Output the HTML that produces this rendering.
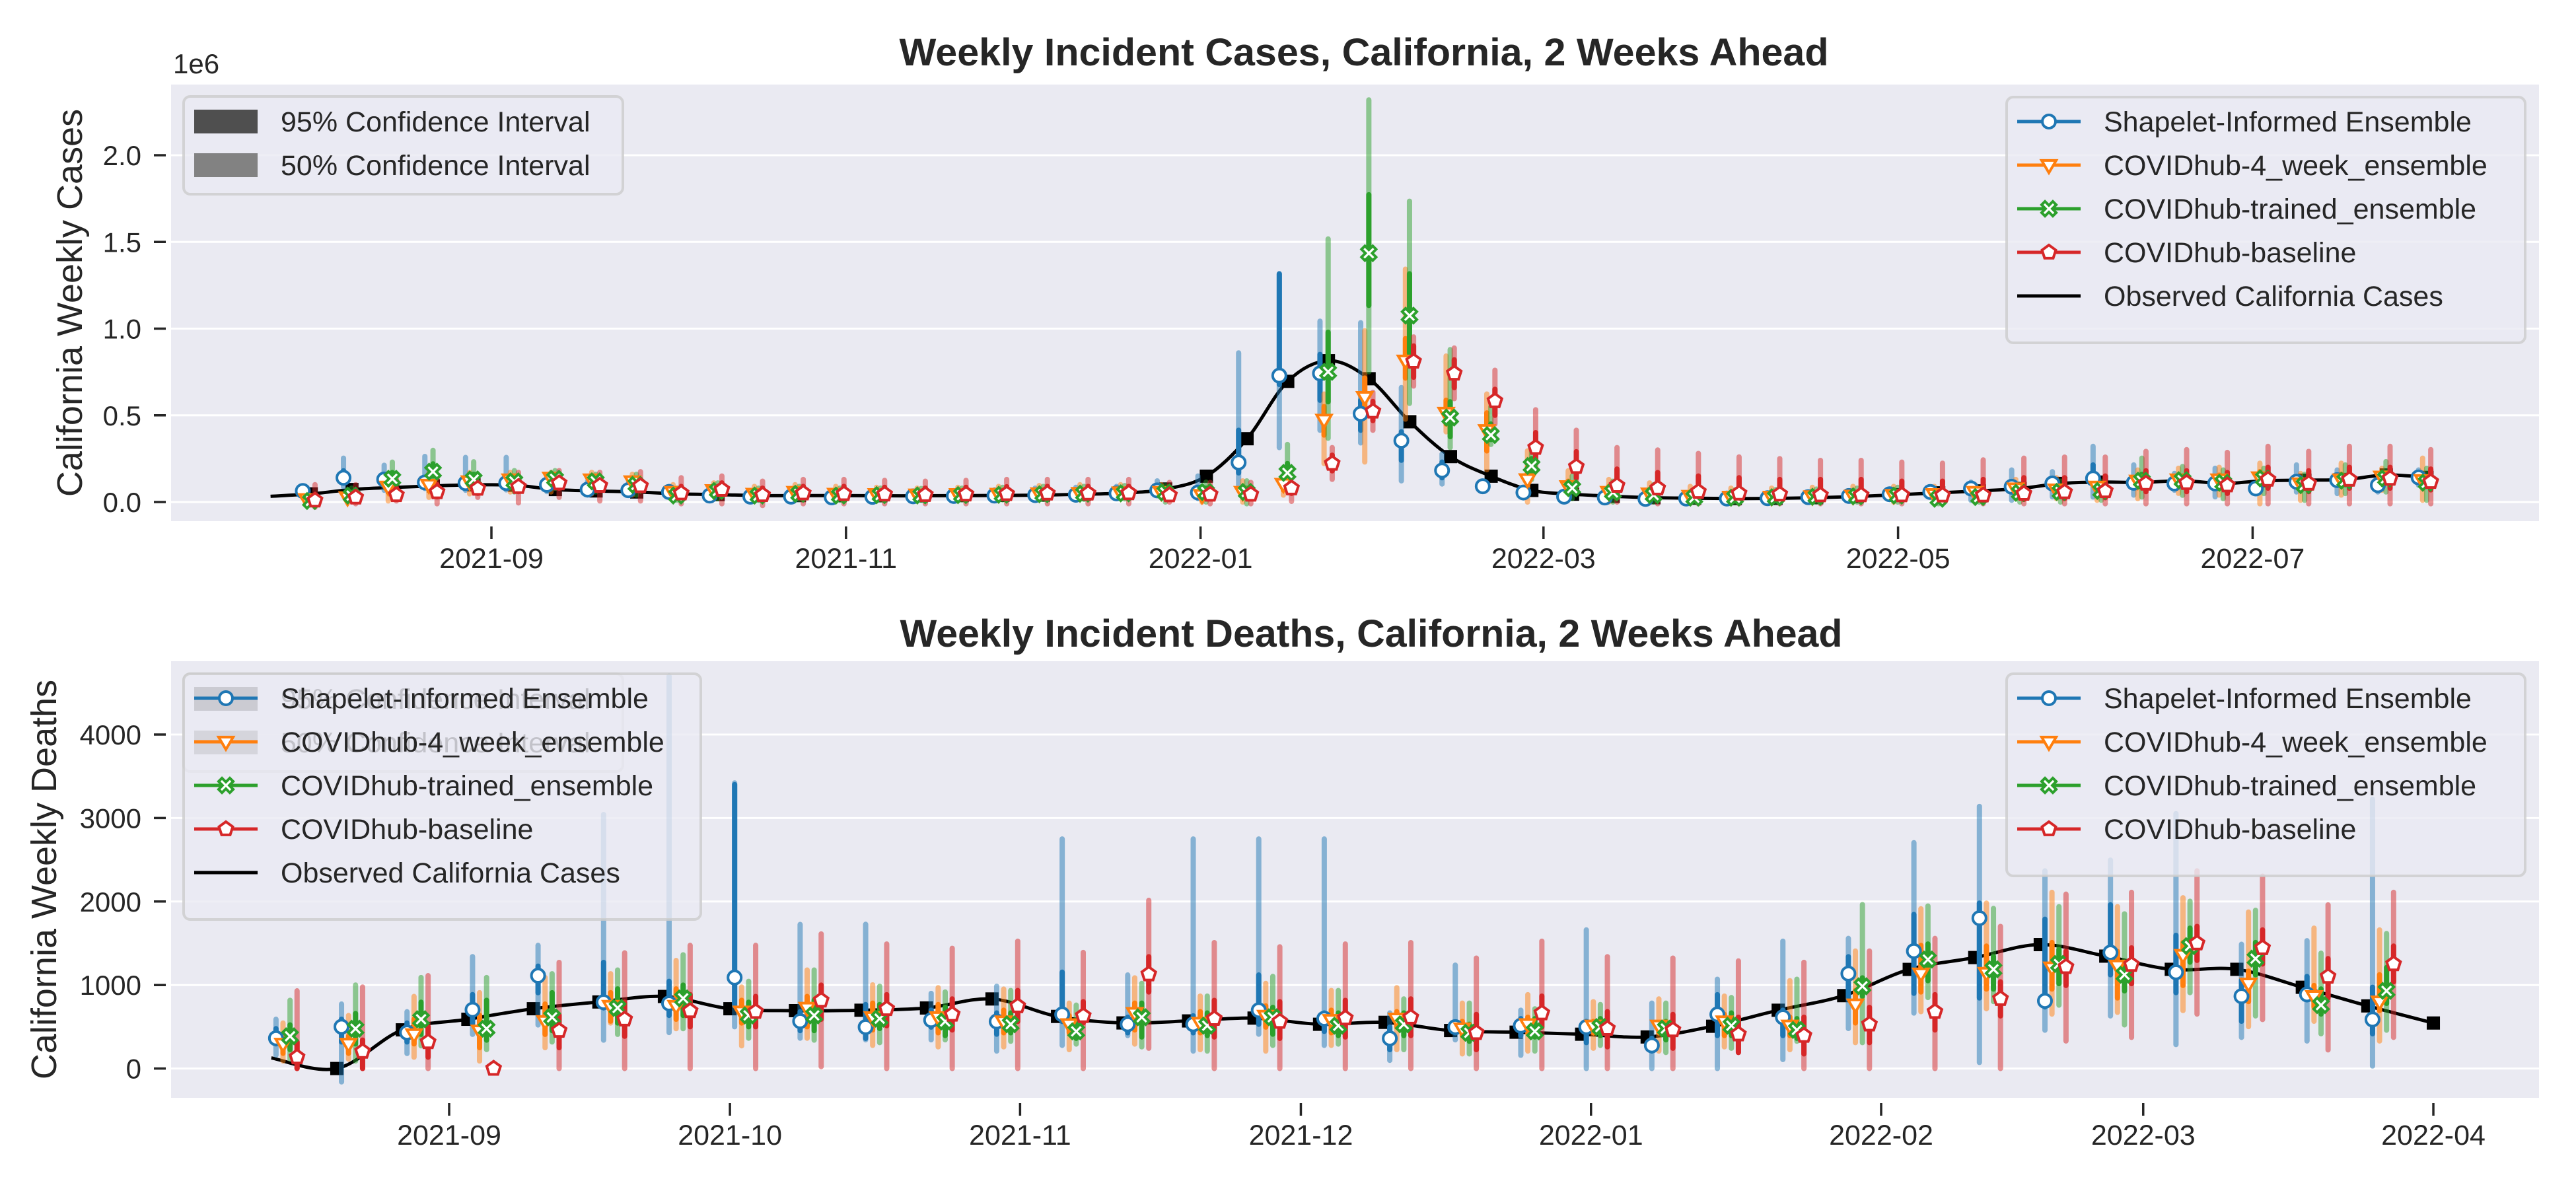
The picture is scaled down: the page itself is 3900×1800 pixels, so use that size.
<!DOCTYPE html>
<html><head><meta charset="utf-8">
<style>
html,body{margin:0;padding:0;background:#fff;}
svg{display:block;font-family:"Liberation Sans",Arial,sans-serif;}
</style></head>
<body>
<svg id="chart" width="3900" height="1800" viewBox="0 0 3900 1800" xmlns="http://www.w3.org/2000/svg"></svg>
<script>
// ---------- DATA: top panel (weekly cases, values in units of 1e6) ----------
const topObsDates = ["2021-07-25","2021-08-01","2021-08-08","2021-08-15","2021-08-22","2021-08-29","2021-09-05","2021-09-12","2021-09-19","2021-09-26","2021-10-03","2021-10-10","2021-10-17","2021-10-24","2021-10-31","2021-11-07","2021-11-14","2021-11-21","2021-11-28","2021-12-05","2021-12-12","2021-12-19","2021-12-26","2022-01-02","2022-01-09","2022-01-16","2022-01-23","2022-01-30","2022-02-06","2022-02-13","2022-02-20","2022-02-27","2022-03-06","2022-03-13","2022-03-20","2022-03-27","2022-04-03","2022-04-10","2022-04-17","2022-04-24","2022-05-01","2022-05-08","2022-05-15","2022-05-22","2022-05-29","2022-06-05","2022-06-12","2022-06-19","2022-06-26","2022-07-03","2022-07-10","2022-07-17","2022-07-24","2022-07-31"];
const topObsValues = [0.033,0.047,0.072,0.084,0.093,0.099,0.097,0.072,0.064,0.058,0.047,0.043,0.037,0.037,0.037,0.036,0.036,0.037,0.038,0.040,0.045,0.052,0.075,0.149,0.365,0.696,0.815,0.711,0.463,0.262,0.149,0.067,0.045,0.033,0.025,0.022,0.020,0.021,0.025,0.032,0.042,0.053,0.064,0.078,0.107,0.115,0.113,0.123,0.107,0.123,0.126,0.130,0.156,0.142];
const topYTicks = [0, 0.5, 1.0, 1.5, 2.0];
const topYTickLabels = ["0.0","0.5","1.0","1.5","2.0"];
const topXTicks = ["2021-09-01","2021-11-01","2022-01-01","2022-03-01","2022-05-01","2022-07-01"];
const topXTickLabels = ["2021-09","2021-11","2022-01","2022-03","2022-05","2022-07"];
// forecasts for topObsDates[1..53]: [median, lo95, hi95, lo50, hi50]
const topShapelet = [[.064,.04,.09,.055,.075],[.14,.088,.253,.12,.18],[.13,.068,.212,.11,.16],[.113,.078,.263,.10,.14],[.109,.068,.257,.095,.14],[.109,.07,.257,.095,.14],[.099,.06,.15,.085,.115],[.072,.04,.12,.06,.09],[.068,.04,.11,.058,.08],[.058,.035,.09,.05,.07],[.037,.02,.07,.03,.05],[.031,.015,.06,.025,.04],[.031,.015,.06,.025,.04],[.027,.012,.055,.02,.035],[.03,.015,.06,.025,.04],[.033,.018,.06,.027,.042],[.035,.02,.065,.03,.045],[.037,.02,.07,.03,.048],[.04,.022,.08,.033,.05],[.042,.025,.085,.035,.055],[.05,.03,.09,.042,.06],[.067,.04,.122,.055,.085],[.055,.02,.15,.045,.08],[.228,.095,.86,.168,.414],[.729,.314,1.316,.678,1.316],[.742,.414,1.043,.587,.851],[.509,.341,1.034,.414,.587],[.354,.122,.66,.241,.405],[.182,.104,.277,.14,.23],[.091,.07,.12,.08,.1],[.055,.04,.075,.048,.062],[.031,.02,.05,.026,.038],[.026,.015,.04,.02,.032],[.018,.01,.03,.014,.024],[.02,.01,.035,.015,.026],[.02,.01,.035,.015,.026],[.022,.012,.04,.017,.03],[.028,.015,.05,.022,.036],[.035,.02,.06,.028,.045],[.045,.025,.075,.037,.055],[.058,.04,.085,.05,.068],[.078,.01,.115,.06,.09],[.088,.01,.185,.07,.11],[.107,.03,.175,.085,.13],[.136,.029,.321,.11,.214],[.111,.04,.214,.09,.14],[.107,.068,.165,.09,.125],[.107,.03,.195,.085,.13],[.078,.05,.095,.07,.088],[.117,.058,.214,.1,.14],[.126,.049,.185,.11,.15],[.097,.058,.136,.085,.11],[.142,.097,.185,.13,.155]];
const topFourWeek = [[.016,0,.04,.008,.028],[.027,0,.07,.015,.045],[.088,.006,.15,.06,.11],[.099,.027,.17,.075,.12],[.119,.047,.17,.095,.14],[.13,.058,.171,.11,.15],[.14,.058,.171,.115,.155],[.13,.047,.171,.105,.15],[.119,.04,.16,.09,.14],[.058,.02,.1,.045,.075],[.068,.02,.11,.05,.085],[.047,.015,.09,.035,.065],[.058,.02,.1,.045,.075],[.047,.015,.09,.035,.065],[.045,.015,.085,.035,.06],[.043,.012,.08,.033,.058],[.045,.015,.085,.035,.06],[.047,.015,.09,.036,.062],[.05,.018,.095,.04,.066],[.052,.02,.1,.042,.07],[.055,.02,.1,.045,.072],[.058,.025,.1,.045,.075],[.04,0,.085,.03,.06],[.058,0,.122,.04,.08],[.104,.04,.15,.07,.13],[.474,.222,.623,.386,.55],[.605,.231,.988,.496,.715],[.815,.478,1.343,.715,.942],[.514,.405,.842,.45,.587],[.414,.186,.623,.295,.514],[.131,0,.295,.08,.2],[.091,.02,.18,.06,.12],[.058,0,.13,.04,.09],[.049,0,.11,.03,.07],[.035,0,.09,.02,.055],[.03,0,.08,.02,.05],[.03,0,.08,.02,.05],[.033,0,.085,.022,.053],[.036,0,.09,.025,.057],[.04,0,.09,.028,.06],[.045,0,.09,.03,.06],[.058,.01,.1,.045,.075],[.078,.02,.13,.06,.1],[.072,.02,.14,.055,.095],[.088,.01,.156,.07,.11],[.123,.02,.185,.1,.15],[.13,.05,.195,.11,.155],[.13,.04,.2,.11,.155],[.142,-.01,.224,.11,.175],[.107,.01,.165,.09,.13],[.13,.04,.224,.11,.16],[.146,.068,.195,.13,.165],[.126,.01,.253,.1,.16]];
const topTrained = [[.006,-.01,.03,0,.015],[.037,.006,.08,.025,.055],[.134,.047,.23,.11,.17],[.175,.119,.298,.15,.22],[.13,.068,.232,.11,.16],[.119,.058,.181,.1,.14],[.134,.078,.181,.115,.155],[.119,.058,.16,.1,.14],[.099,.04,.16,.08,.12],[.037,.01,.08,.025,.055],[.064,.02,.11,.05,.08],[.037,.01,.08,.025,.055],[.047,.015,.09,.035,.065],[.037,.01,.08,.025,.055],[.04,.012,.08,.03,.055],[.038,.01,.078,.028,.052],[.04,.012,.08,.03,.055],[.042,.012,.085,.032,.058],[.045,.015,.09,.035,.06],[.048,.015,.09,.037,.063],[.05,.018,.095,.04,.066],[.055,0,.095,.04,.07],[.058,0,.115,.04,.08],[.058,-.01,.122,.04,.08],[.168,.095,.332,.122,.222],[.751,.368,1.517,.578,.979],[1.435,.751,2.319,1.134,1.772],[1.075,.569,1.735,.86,1.316],[.487,.314,.879,.377,.578],[.386,.332,.55,.36,.45],[.208,.13,.314,.17,.25],[.08,.02,.15,.06,.11],[.055,0,.12,.035,.08],[.04,0,.1,.025,.06],[.025,0,.07,.015,.04],[.025,0,.07,.015,.04],[.027,0,.072,.017,.042],[.03,0,.075,.02,.045],[.033,0,.08,.022,.05],[.037,0,.085,.025,.055],[.019,-.01,.06,.01,.035],[.029,0,.07,.02,.045],[.053,0,.1,.04,.07],[.058,0,.12,.045,.08],[.064,.01,.12,.05,.085],[.123,.029,.253,.09,.16],[.126,.039,.205,.105,.15],[.111,.02,.185,.09,.14],[.136,.049,.195,.115,.16],[.097,.01,.16,.08,.12],[.123,.049,.214,.1,.15],[.136,.058,.233,.11,.17],[.111,.01,.195,.09,.14]];
const topBaseline = [[.01,-.03,.1,0,.04],[.027,-.01,.1,.01,.06],[.041,.006,.13,.025,.08],[.058,-.01,.14,.03,.1],[.078,.027,.15,.05,.11],[.088,-.005,.171,.06,.12],[.109,.027,.181,.08,.14],[.095,.006,.171,.07,.13],[.093,.006,.175,.065,.13],[.051,-.01,.14,.03,.09],[.072,-.01,.15,.04,.11],[.041,-.02,.12,.02,.08],[.051,-.01,.13,.03,.09],[.047,-.01,.13,.03,.09],[.045,-.01,.125,.025,.085],[.042,-.01,.12,.022,.08],[.045,-.01,.125,.025,.085],[.047,-.01,.13,.027,.088],[.05,-.01,.13,.03,.09],[.05,-.01,.13,.03,.09],[.052,-.01,.13,.032,.09],[.04,0,.113,.02,.08],[.044,-.01,.113,.025,.08],[.044,-.01,.113,.025,.08],[.08,.004,.113,.05,.1],[.222,.131,.314,.18,.27],[.523,.414,.633,.47,.58],[.811,.669,.952,.72,.9],[.742,.596,.888,.66,.82],[.583,.45,.76,.5,.65],[.314,.186,.532,.24,.4],[.204,.077,.414,.14,.29],[.095,0,.314,.04,.19],[.08,-.01,.3,.03,.17],[.06,-.01,.28,.02,.15],[.05,-.01,.26,.01,.14],[.045,-.01,.25,.01,.13],[.04,-.01,.24,.01,.13],[.04,-.01,.24,.01,.13],[.04,-.01,.23,.01,.12],[.039,-.01,.224,.01,.12],[.039,-.01,.243,.01,.13],[.049,-.01,.253,.015,.14],[.058,-.01,.259,.02,.14],[.064,-.01,.259,.025,.15],[.107,-.01,.292,.06,.18],[.111,-.01,.302,.06,.18],[.097,-.01,.286,.05,.17],[.13,-.01,.321,.08,.2],[.107,-.01,.292,.06,.18],[.13,-.01,.321,.08,.2],[.136,-.01,.321,.08,.2],[.117,-.01,.302,.07,.19]];

// ---------- DATA: bottom panel (weekly deaths) ----------
const botObsDates = ["2021-08-13","2021-08-20","2021-08-27","2021-09-03","2021-09-10","2021-09-17","2021-09-24","2021-10-01","2021-10-08","2021-10-15","2021-10-22","2021-10-29","2021-11-05","2021-11-12","2021-11-19","2021-11-26","2021-12-03","2021-12-10","2021-12-17","2021-12-24","2021-12-31","2022-01-07","2022-01-14","2022-01-21","2022-01-28","2022-02-04","2022-02-11","2022-02-18","2022-02-25","2022-03-04","2022-03-11","2022-03-18","2022-03-25","2022-04-01"];
const botObsValues = [127,0,463,590,716,797,863,716,693,698,725,833,624,546,570,604,530,553,455,435,411,378,506,698,873,1187,1329,1484,1346,1188,1188,973,750,545];
const botYTicks = [0,1000,2000,3000,4000];
const botYTickLabels = ["0","1000","2000","3000","4000"];
const botXTicks = ["2021-09-01","2021-10-01","2021-11-01","2021-12-01","2022-01-01","2022-02-01","2022-03-01","2022-04-01"];
const botXTickLabels = ["2021-09","2021-10","2021-11","2021-12","2022-01","2022-02","2022-03","2022-04"];
// forecasts for botObsDates[0..32]: [median, lo95, hi95, lo50, hi50]
const botShapelet = [[363,160,590,295,477],[500,-160,772,318,590],[431,180,680,318,545],[704,409,1340,545,885],[1112,522,1475,908,1226],[795,340,3042,726,1271],[780,431,4700,636,1044],[1090,500,3420,750,3400],[567,363,1725,454,681],[496,344,1727,361,766],[580,344,900,496,698],[563,209,985,411,665],[648,277,2749,563,1154],[530,395,1120,428,614],[530,209,2749,428,631],[698,411,2749,530,1120],[597,277,2749,445,665],[361,98,665,226,496],[496,344,1238,428,546],[513,159,698,395,597],[496,0,1660,310,563],[277,0,783,209,361],[648,0,1069,395,884],[614,108,1525,395,698],[1137,479,1558,833,1339],[1407,664,2705,901,1845],[1801,73,3139,845,1981],[810,459,2367,738,1788],[1389,630,2496,1123,1960],[1153,287,3053,909,1595],[866,373,1488,566,1059],[888,330,1531,823,1102],[587,30,3225,416,973]];
const botFourWeek = [[295,90,545,182,409],[295,113,635,182,386],[409,136,863,295,590],[454,90,908,250,636],[567,250,1090,409,772],[749,545,1135,567,908],[749,477,1294,590,953],[681,272,976,545,817],[726,363,1180,500,863],[614,277,1002,462,783],[614,260,968,428,766],[563,260,951,428,698],[530,226,783,428,631],[664,293,1086,462,783],[546,226,867,428,681],[631,209,1019,496,749],[580,277,934,428,698],[597,226,968,496,681],[479,175,783,395,563],[530,209,884,428,614],[513,243,800,428,563],[513,209,833,428,546],[563,260,867,395,648],[513,226,1052,395,614],[766,310,1407,546,934],[1137,681,1913,917,1474],[1145,716,1981,952,1466],[1209,652,2110,952,1509],[1231,673,1938,845,1402],[1359,695,2045,995,1509],[1016,502,1874,802,1166],[866,566,1681,738,995],[802,330,1660,695,1123]];
const botTrained = [[386,113,817,227,522],[477,90,1000,295,658],[590,272,1090,409,794],[477,227,1090,340,817],[613,318,1135,454,908],[726,409,1180,545,953],[840,477,1362,636,999],[636,363,1044,500,794],[636,340,1180,454,817],[597,310,985,479,766],[563,344,917,395,732],[530,327,934,428,665],[445,293,759,361,563],[614,260,1019,378,783],[513,209,867,395,665],[614,277,1103,411,732],[513,293,934,395,665],[530,226,833,395,665],[428,175,783,327,530],[445,209,715,378,597],[496,277,766,395,597],[479,192,783,344,563],[513,243,850,395,665],[462,327,1069,361,597],[985,310,1963,867,1086],[1305,850,1946,1052,1491],[1188,802,1917,952,1338],[1252,759,1938,1016,1424],[1123,523,1852,930,1274],[1466,909,2003,1274,1681],[1316,630,1895,1123,1509],[759,416,1381,652,952],[930,459,1617,780,1209]];
const botBaseline = [[136,0,930,0,318],[204,0,976,0,340],[318,0,1112,136,500],[0,0,0,0,0],[454,0,1271,250,636],[590,0,1385,386,794],[690,0,1475,500,885],[681,0,1475,500,863],[817,23,1612,590,999],[715,0,1491,513,884],[648,0,1440,462,833],[749,0,1525,563,934],[631,0,1390,546,800],[1130,243,2014,917,1339],[597,0,1508,378,816],[563,0,1457,361,800],[604,0,1491,378,816],[614,0,1508,395,833],[428,0,1322,226,648],[664,0,1525,496,867],[479,0,1339,260,681],[462,0,1322,243,648],[411,192,1288,192,614],[395,0,1272,175,614],[530,0,1407,310,732],[681,0,1558,462,884],[836,0,1702,630,1038],[1218,330,2088,995,1402],[1244,373,2110,1016,1445],[1501,652,2367,1295,1702],[1445,587,2303,1252,1660],[1102,223,1960,845,1316],[1252,373,2110,1038,1466]];

// ---------- RENDER ----------
const NS = "http://www.w3.org/2000/svg";
const svg = document.getElementById("chart");
const COLORS = {blue:"#1f77b4", orange:"#ff7f0e", green:"#2ca02c", red:"#d62728"};
const TXT = "#262626";
function mk(tag, attrs, parent){
  const e = document.createElementNS(NS, tag);
  for (const k in attrs) e.setAttribute(k, attrs[k]);
  (parent || svg).appendChild(e);
  return e;
}
const REF = Date.UTC(2021, 8, 1);
function dayOf(s){ const p = s.split("-"); return (Date.UTC(+p[0], +p[1]-1, +p[2]) - REF) / 86400000; }

const defs = mk("defs", {});
function clip(id, x, y, w, h){
  const c = mk("clipPath", {id:id}, defs);
  mk("rect", {x:x, y:y, width:w, height:h}, c);
}

function markerShape(kind, x, y, color, parent){
  const s = 11;
  let e;
  if (kind === "circle") {
    e = mk("circle", {cx:x, cy:y, r:s-1, fill:"#fff", stroke:color, "stroke-width":4}, parent);
  } else if (kind === "tri") {
    const pts = [[0,s*1.05],[-s*1.0,-s*0.65],[s*1.0,-s*0.65]];
    e = mk("polygon", {points:pts.map(p=>(x+p[0])+","+(y+p[1])).join(" "), fill:"#fff", stroke:color, "stroke-width":4, "stroke-linejoin":"miter"}, parent);
  } else if (kind === "x") {
    const a = 12, w = 3.6;
    const plus = [[w,a],[w,w],[a,w],[a,-w],[w,-w],[w,-a],[-w,-a],[-w,-w],[-a,-w],[-a,w],[-w,w],[-w,a]];
    const c = Math.SQRT1_2;
    const pts = plus.map(p=>[(p[0]-p[1])*c, (p[0]+p[1])*c]);
    e = mk("polygon", {points:pts.map(p=>(x+p[0])+","+(y+p[1])).join(" "), fill:"#fff", stroke:color, "stroke-width":4, "stroke-linejoin":"miter"}, parent);
  } else {
    const pts = [];
    for (let i=0;i<5;i++){ const ang = -Math.PI/2 + i*2*Math.PI/5; pts.push([x+s*Math.cos(ang), y+s*Math.sin(ang)]); }
    e = mk("polygon", {points:pts.map(p=>p[0]+","+p[1]).join(" "), fill:"#fff", stroke:color, "stroke-width":4, "stroke-linejoin":"miter"}, parent);
  }
  return e;
}

function smoothPath(pts){
  let d = "M" + pts[0][0] + "," + pts[0][1];
  for (let i=0;i<pts.length-1;i++){
    const p0 = pts[i-1] || pts[i], p1 = pts[i], p2 = pts[i+1], p3 = pts[i+2] || pts[i+1];
    const c1 = [p1[0] + (p2[0]-p0[0])/6, p1[1] + (p2[1]-p0[1])/6];
    const c2 = [p2[0] - (p3[0]-p1[0])/6, p2[1] - (p3[1]-p1[1])/6];
    d += " C" + c1[0] + "," + c1[1] + " " + c2[0] + "," + c2[1] + " " + p2[0] + "," + p2[1];
  }
  return d;
}

function drawPanel(cfg){
  const g = mk("g", {});
  
  
  const bg = mk("rect", {x:cfg.L, y:cfg.T, width:cfg.R-cfg.L, height:cfg.B-cfg.T, fill:"#eaeaf2"}, g);
  
  
  cfg.yTicks.forEach((v,i)=>{
    const y = cfg.y(v);
    const gl = mk("line", {x1:cfg.L, x2:cfg.R, y1:y, y2:y, stroke:"#fff", "stroke-width":3}, g);
    
    
    const tk = mk("line", {x1:cfg.L-26, x2:cfg.L-8, y1:y, y2:y, stroke:TXT, "stroke-width":3.5}, g);
    
    
    const t = mk("text", {x:cfg.L-45, y:y+15, "text-anchor":"end", "font-size":42, fill:TXT}, g);
    t.textContent = cfg.yTickLabels[i];
    
    
  });
  cfg.xTicks.forEach((s,i)=>{
    const x = cfg.x(dayOf(s));
    const tk = mk("line", {x1:x, x2:x, y1:cfg.B+8, y2:cfg.B+27, stroke:TXT, "stroke-width":3.5}, g);
    
    
    const t = mk("text", {x:x, y:cfg.B+71, "text-anchor":"middle", "font-size":43, fill:TXT}, g);
    t.textContent = cfg.xTickLabels[i];
    
    
  });
  const title = mk("text", {x:cfg.titleX, y:cfg.titleY, "text-anchor":"middle", "font-size":58, "font-weight":"bold", fill:TXT, textLength:cfg.titleW, lengthAdjust:"spacingAndGlyphs"}, g);
  title.textContent = cfg.title;
  
  
  const yl = mk("text", {x:0, y:0, transform:"translate("+cfg.ylabelX+","+((cfg.T+cfg.B)/2)+") rotate(-90)", "text-anchor":"middle", "font-size":54, fill:TXT}, g);
  yl.textContent = cfg.ylabel;
  
  
  if (cfg.offsetText) {
    const ot = mk("text", {x:cfg.L+3, y:cfg.T-17, "font-size":42, fill:TXT}, g);
    ot.textContent = cfg.offsetText;
    
    
  }
  const dg = mk("g", {"clip-path":"url(#"+cfg.clipId+")"}, g);
  
  
  const pts = cfg.obsDates.map((s,i)=>[cfg.x(dayOf(s)), cfg.y(cfg.obsValues[i])]);
  const ol = mk("path", {d:smoothPath(pts), fill:"none", stroke:"#000", "stroke-width":5, "stroke-linejoin":"round"}, dg);
  
  
  cfg.obsDates.forEach((s,i)=>{
    if (i === 0) return;
    const x = cfg.x(dayOf(s)), y = cfg.y(cfg.obsValues[i]);
    const sq = mk("rect", {x:x-10, y:y-10, width:20, height:20, fill:"#000"}, dg);
    
    
  });
  cfg.models.forEach(m=>{
    m.data.forEach((r,i)=>{
      const d = dayOf(cfg.obsDates[i + cfg.fcStart]) + m.off;
      const x = cfg.x(d);
      const b95 = mk("line", {x1:x, x2:x, y1:cfg.y(r[1]), y2:cfg.y(r[2]), stroke:m.color, "stroke-opacity":0.5, "stroke-width":8, "stroke-linecap":"round"}, dg);
      
      
      const b50 = mk("line", {x1:x, x2:x, y1:cfg.y(r[3]), y2:cfg.y(r[4]), stroke:m.color, "stroke-width":8, "stroke-linecap":"round"}, dg);
      
      
    });
  });
  cfg.models.forEach(m=>{
    m.data.forEach((r,i)=>{
      const d = dayOf(cfg.obsDates[i + cfg.fcStart]) + m.off;
      const mm = markerShape(m.marker, cfg.x(d), cfg.y(r[0]), m.color, dg);
      
      
    });
  });
  return g;
}

function legendBox(x, y, w, h, name){
  const r = mk("rect", {x:x, y:y, width:w, height:h, rx:10, ry:10, fill:"#eaeaf2", "fill-opacity":0.8, stroke:"#cccccc", "stroke-opacity":0.8, "stroke-width":4});
  
  
}
function ciLegend(x, y){
  legendBox(x, y, 665, 148, 'ci-legend');
  const items = [["95% Confidence Interval","#4f4f4f"],["50% Confidence Interval","#828282"]];
  items.forEach((it,i)=>{
    const cy = y + 38 + i*66;
    const p = mk("rect", {x:x+16, y:cy-18, width:96, height:36, fill:it[1]});
    
    
    const t = mk("text", {x:x+147, y:cy+15, "font-size":43, fill:TXT});
    t.textContent = it[0];
    
    
  });
}
const MODELS = [
  {key:"shapelet", label:"Shapelet-Informed Ensemble", color:COLORS.blue, marker:"circle"},
  {key:"four-week", label:"COVIDhub-4_week_ensemble", color:COLORS.orange, marker:"tri"},
  {key:"trained", label:"COVIDhub-trained_ensemble", color:COLORS.green, marker:"x"},
  {key:"baseline", label:"COVIDhub-baseline", color:COLORS.red, marker:"pent"}
];
function seriesLegend(x, y, w, withObs){
  const n = withObs ? 5 : 4;
  legendBox(x, y, w, 38 + n*66 - 2 + 6, 'series-legend');
  for (let i=0;i<n;i++){
    const cy = y + 37 + i*66;
    const color = i < 4 ? MODELS[i].color : "#000";
    const ln = mk("line", {x1:x+16, x2:x+112, y1:cy, y2:cy, stroke:color, "stroke-width":5});
    
    
    if (i < 4) {
      const mm = markerShape(MODELS[i].marker, x+64, cy, color);
      
      
    }
    const t = mk("text", {x:x+147, y:cy+15, "font-size":43, fill:TXT});
    t.textContent = i < 4 ? MODELS[i].label : "Observed California Cases";
    
    
  }
}

const TL = 259, TR = 3844, TT = 128, TB = 789;
clip("clipTop", TL, TT, TR-TL, TB-TT);
drawPanel({
  name:"cases-panel", L:TL, R:TR, T:TT, B:TB, clipId:"clipTop",
  x: d => 744 + d*8.8,
  y: v => 760 - v*262.5,
  yTicks: topYTicks, yTickLabels: topYTickLabels,
  xTicks: topXTicks, xTickLabels: topXTickLabels,
  title:"Weekly Incident Cases, California, 2 Weeks Ahead", titleY:99, titleX:2065, titleW:1407,
  ylabel:"California Weekly Cases", ylabelX:124, offsetText:"1e6",
  obsDates: topObsDates, obsValues: topObsValues, fcStart:1,
  models:[
    {key:"shapelet", color:COLORS.blue, marker:"circle", off:-1.45, data:topShapelet},
    {key:"four-week", color:COLORS.orange, marker:"tri", off:-0.75, data:topFourWeek},
    {key:"trained", color:COLORS.green, marker:"x", off:-0.05, data:topTrained},
    {key:"baseline", color:COLORS.red, marker:"pent", off:0.65, data:topBaseline}
  ]
});
ciLegend(278, 146);
seriesLegend(3038, 147, 785, true);

const BL = 259, BR = 3844, BT = 1001, BB = 1662;
clip("clipBot", BL, BT, BR-BL, BB-BT);
drawPanel({
  name:"deaths-panel", L:BL, R:BR, T:BT, B:BB, clipId:"clipBot",
  x: d => 680 + d*14.17,
  y: v => 1617.6 - v*0.1264,
  yTicks: botYTicks, yTickLabels: botYTickLabels,
  xTicks: botXTicks, xTickLabels: botXTickLabels,
  title:"Weekly Incident Deaths, California, 2 Weeks Ahead", titleY:979, titleX:2076, titleW:1427,
  ylabel:"California Weekly Deaths", ylabelX:85, offsetText:null,
  obsDates: botObsDates, obsValues: botObsValues, fcStart:0,
  models:[
    {key:"shapelet", color:COLORS.blue, marker:"circle", off:0.5, data:botShapelet},
    {key:"four-week", color:COLORS.orange, marker:"tri", off:1.25, data:botFourWeek},
    {key:"trained", color:COLORS.green, marker:"x", off:2.0, data:botTrained},
    {key:"baseline", color:COLORS.red, marker:"pent", off:2.75, data:botBaseline}
  ]
});
ciLegend(278, 1020);
seriesLegend(278, 1020, 783, true);
seriesLegend(3038, 1020, 785, false);
</script>
</body></html>
